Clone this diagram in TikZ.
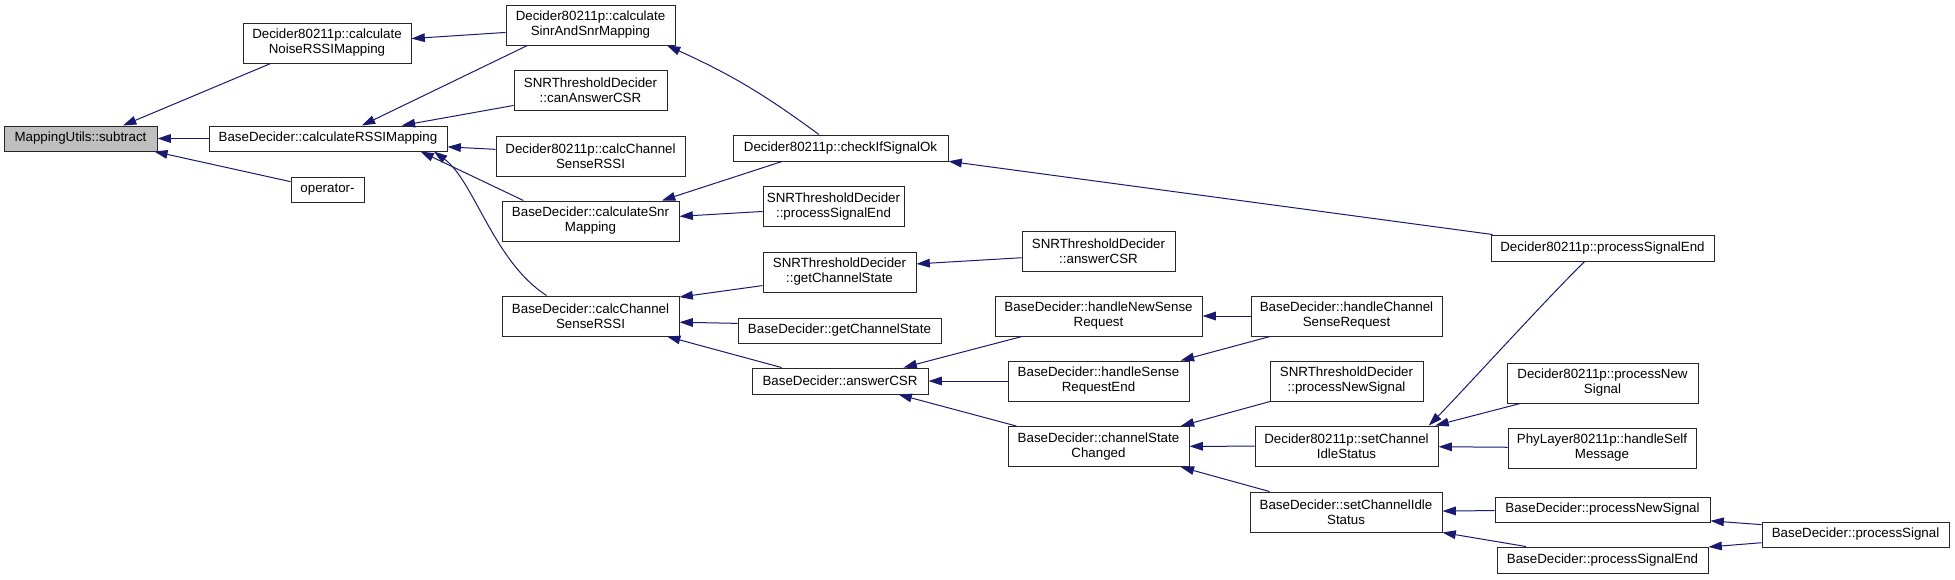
\documentclass[tikz,border=0pt]{standalone}
\usepackage{fontspec}
\setmainfont{Liberation Sans}
\usepackage{tikz}
\usetikzlibrary{arrows.meta}
\definecolor{edgeblue}{HTML}{191970}
\definecolor{fngray}{HTML}{BFBFBF}

\begin{document}
\begin{tikzpicture}[x=0.75pt, y=-0.75pt,
    fn/.style={draw=black!85, line width=0.75pt, inner sep=0pt, align=center,
      font=\fontsize{10}{11.3}\selectfont},
    call/.style={draw=edgeblue, line width=0.75pt,
      -{Triangle[length=10pt, width=6.5pt, fill=edgeblue]}}]
  \useasboundingbox (0,0) rectangle (1955,579);
  % functions: name/centre x/centre y/width/height/label (pixels, y down)
  \node[fn, fill=fngray, minimum width=153*0.75pt, minimum height=25*0.75pt]
    (sub) at (80.5,138.5) {MappingUtils::subtract};
  \foreach \n/\cx/\cy/\w/\h/\lab in {%
      noise/327/43/168/40/{Decider80211p::calculate\\NoiseRSSIMapping},
      rssi/328/138.5/238/25/{BaseDecider::calculateRSSIMapping},
      oper/327.5/189.5/73/25/{operator-},
      sinr/590.5/25/169/40/{Decider80211p::calculate\\SinrAndSnrMapping},
      canans/590.5/90.5/153/40/{SNRThresholdDecider\\::canAnswerCSR},
      dcalc/590.5/156/189/40/{Decider80211p::calcChannel\\SenseRSSI},
      snrmap/590.5/221/177/40/{BaseDecider::calculateSnr\\Mapping},
      bcalc/590.5/316/177/40/{BaseDecider::calcChannel\\SenseRSSI},
      chkok/840.5/148/215/26/{Decider80211p::checkIfSignalOk},
      snrpse/833.5/206.5/141/40/{SNRThresholdDecider\\::processSignalEnd},
      snrgcs/839.5/272/153/40/{SNRThresholdDecider\\::getChannelState},
      bgcs/839.5/330.5/203/25/{BaseDecider::getChannelState},
      bans/840/381/176/26/{BaseDecider::answerCSR},
      snrans/1098.5/251/153/40/{SNRThresholdDecider\\::answerCSR},
      hnsr/1098.5/316/207/40/{BaseDecider::handleNewSense\\Request},
      hsre/1098.5/381/181/40/{BaseDecider::handleSense\\RequestEnd},
      csc/1098.5/446.5/181/40/{BaseDecider::channelState\\Changed},
      dpse/1602.5/248/223/26/{Decider80211p::processSignalEnd},
      hcsr/1346.5/316/191/40/{BaseDecider::handleChannel\\SenseRequest},
      snrpns/1346.5/381/153/40/{SNRThresholdDecider\\::processNewSignal},
      dscis/1346.5/446/183/40/{Decider80211p::setChannel\\IdleStatus},
      bscis/1346/512/192/40/{BaseDecider::setChannelIdle\\Status},
      dpns/1602.5/383/191/40/{Decider80211p::processNew\\Signal},
      phy/1602/448/188/40/{PhyLayer80211p::handleSelf\\Message},
      bpns/1602.5/509.5/215/25/{BaseDecider::processNewSignal},
      bpse/1602.5/560/211/26/{BaseDecider::processSignalEnd},
      bps/1855.5/534.5/187/25/{BaseDecider::processSignal}}
  {
    \node[fn, minimum width=\w*0.75pt, minimum height=\h*0.75pt] (\n) at (\cx,\cy) {\lab};
  }
  % calls: caller/callee, arrow at the callee
  \foreach \a/\b in {%
      noise.200/sub.17, rssi/sub, oper.168/sub.350,
      sinr.185/noise.3, sinr.198/rssi.21, canans.191/rssi.10,
      dcalc.176/rssi.356, snrmap.163/rssi.352,
      chkok.193/snrmap.16, snrpse.184/snrmap.3, dpse.173/chkok.353,
      snrgcs.190/bcalc.12, bgcs.176/bcalc.356, bans.167/bcalc.345,
      snrans.185/snrgcs.6, hnsr.195/bans.12, hsre/bans, csc.166/bans.347,
      hcsr/hnsr, hcsr.195/hsre.14, snrpns.195/csc.14, dscis/csc,
      bscis.165/csc.346, dpns.194/dscis.13, phy/dscis,
      bpns/bscis, bpse.170/bscis.348, bps.174/bpns.354, bps.185/bpse.7}
  {
    \draw[call] (\a) -- (\b);
  }
  % curved ones
  \draw[call] (chkok.148) to[bend right=6] (sinr.345);
  \draw[call] (bcalc.155) .. controls +(-53,-34) and +(40,29) .. (rssi.353);
  \draw[call] (dpse.217) .. controls +(-35,34) and +(27,-27) .. (dscis.14);
\end{tikzpicture}
\end{document}
